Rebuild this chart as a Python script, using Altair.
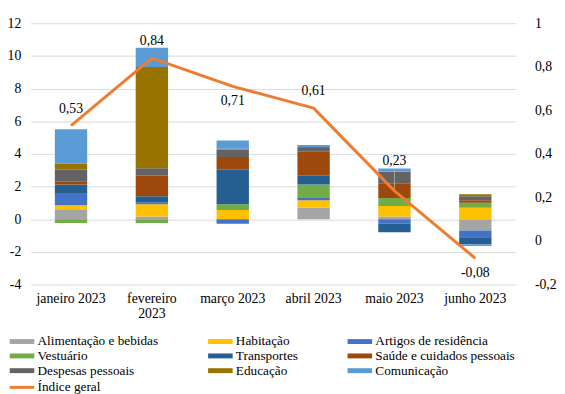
import altair as alt
import pandas as pd

months = ["janeiro 2023", "fevereiro 2023", "março 2023", "abril 2023", "maio 2023", "junho 2023"]

series = [
    "Alimentação e bebidas", "Habitação", "Artigos de residência",
    "Vestuário", "Transportes", "Saúde e cuidados pessoais",
    "Despesas pessoais", "Educação", "Comunicação",
]
colors = ["#A5A5A5", "#FFC000", "#4472C4", "#70AD47", "#255E91", "#9E480E",
          "#636363", "#997300", "#5B9BD5"]

alimentacao = [0.56, 0.16, 0.00, 0.70, 0.16, -0.70]
habitacao = [0.30, 0.76, 0.56, 0.46, 0.64, 0.70]
artigos = [0.74, 0.12, -0.28, 0.18, -0.28, -0.40]
vestuario = [-0.24, -0.24, 0.36, 0.78, 0.50, 0.30]
transportes = [0.52, 0.36, 2.10, 0.54, -0.52, -0.44]
saude = [0.20, 1.26, 0.78, 1.50, 0.90, 0.16]
despesas = [0.70, 0.46, 0.46, 0.20, 0.70, 0.24]
educacao = [0.38, 6.20, 0.06, 0.06, 0.00, 0.12]
comunicacao = [2.10, 1.18, 0.50, 0.12, 0.20, -0.10]

indice_geral = [0.53, 0.84, 0.71, 0.61, 0.23, -0.08]

left_ticks = [-4, -2, 0, 2, 4, 6, 8, 10, 12]
right_ticks = [-0.2, 0, 0.2, 0.4, 0.6, 0.8, 1.0]

all_values = [alimentacao, habitacao, artigos, vestuario, transportes, saude,
              despesas, educacao, comunicacao]
rows = []
for i, (s, vals) in enumerate(zip(series, all_values)):
    for m, v in zip(months, vals):
        rows.append({"month": m, "series": s, "value": v, "order": i})
df = pd.DataFrame(rows)

df_line = pd.DataFrame({"month": months, "indice": indice_geral})

FONT = "Liberation Serif, Times New Roman, serif"

x_enc = alt.X(
    "month:N", sort=months,
    scale=alt.Scale(paddingInner=0.6, paddingOuter=0.3),
    axis=alt.Axis(
        title=None, labelAngle=0, domain=False, ticks=False, labelPadding=7,
        labelFontSize=14, labelLineHeight=16, labelOverlap=False,
        labelExpr="datum.label == 'fevereiro 2023' ? ['fevereiro', '2023'] : datum.label",
    ),
)

bars = alt.Chart(df).mark_bar().encode(
    x=x_enc,
    y=alt.Y(
        "value:Q", stack="zero",
        scale=alt.Scale(domain=[-4, 12], nice=False),
        axis=alt.Axis(
            values=left_ticks, title=None, domain=False, ticks=False,
            gridColor="#D9D9D9", labelPadding=10, labelFontSize=14,
            labelExpr="replace(datum.label, '−', '-')",
        ),
    ),
    color=alt.Color(
        "series:N",
        scale=alt.Scale(domain=series, range=colors),
        legend=alt.Legend(
            title=None, orient="none", legendX=-15.5, legendY=317, columns=3,
            direction="horizontal",
            columnPadding=50, rowPadding=0, gridAlign="each",
            symbolType="M-2.5,-0.5H2.5V0.5H-2.5Z", symbolSize=100, symbolStrokeWidth=0,
            labelFontSize=13.5, labelOffset=9, padding=0,
        ),
    ),
    order=alt.Order("order:Q", sort="ascending"),
)

base_line = alt.Chart(df_line).transform_calculate(
    serie="'Índice geral'",
    label="replace(replace(format(datum.indice, '.2f'), '.', ','), '−', '-')",
    top="datum.indice + 0.1",
)

y_line = alt.Y(
    "indice:Q",
    scale=alt.Scale(domain=[-0.2, 1], nice=False),
    axis=alt.Axis(
        orient="right", values=right_ticks, title=None, grid=False, domain=False,
        ticks=False, labelPadding=19, labelFontSize=14,
        labelExpr="replace(replace(format(datum.value, '.1~f'), '.', ','), '−', '-')",
    ),
)

line = base_line.mark_line(strokeWidth=3, strokeJoin="round").encode(
    x=alt.X("month:N", sort=months),
    y=y_line,
    stroke=alt.Stroke(
        "serie:N",
        scale=alt.Scale(domain=["Índice geral"], range=["#ED7D31"]),
        legend=alt.Legend(
            title=None, orient="none", legendX=-15.5, legendY=364,
            symbolType="M-2.5,0H2.5", symbolSize=100, symbolStrokeWidth=3,
            labelFontSize=13.5, labelOffset=9, padding=0,
        ),
    ),
)

leader = base_line.transform_filter(
    alt.FieldOneOfPredicate(field="month", oneOf=["maio 2023"])
).mark_rule(color="#A6A6A6", strokeWidth=1).encode(
    x=alt.X("month:N", sort=months),
    y=alt.Y("indice:Q"),
    y2="top:Q",
)

def label_layer(which, dy):
    return base_line.transform_filter(
        alt.FieldOneOfPredicate(field="month", oneOf=which)
    ).mark_text(font=FONT, fontSize=14, color="#000000", dy=dy).encode(
        x=alt.X("month:N", sort=months),
        y=alt.Y("indice:Q"),
        text="label:N",
    )

labels_above = label_layer(["janeiro 2023", "fevereiro 2023", "abril 2023"], -17)
labels_below = label_layer(["março 2023", "junho 2023"], 15)
labels_high = label_layer(["maio 2023"], -30)

right_layer = alt.layer(leader, line, labels_above, labels_below, labels_high)

chart = alt.layer(bars, right_layer).resolve_scale(
    y="independent"
).properties(
    width=494, height=266,
    autosize=alt.AutoSizeParams(type="none"),
    padding={"left": 23, "top": 12, "right": 42, "bottom": 108},
).configure(
    font=FONT,
).configure_axis(
    labelFont=FONT, labelColor="#000000",
).configure_legend(
    labelFont=FONT, labelColor="#000000",
).configure_view(
    stroke=None,
)

chart.save("out.html", embed_options={"renderer": "svg", "actions": False})
